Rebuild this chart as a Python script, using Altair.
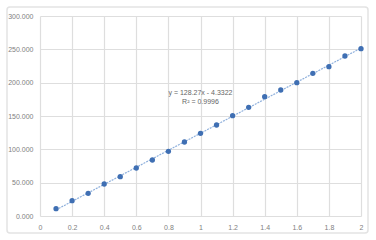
import altair as alt
import pandas as pd

xs = [0.1, 0.2, 0.3, 0.4, 0.5, 0.6, 0.7, 0.8, 0.9, 1.0, 1.1, 1.2, 1.3, 1.4, 1.5, 1.6, 1.7, 1.8, 1.9, 2.0]
ys = [11, 23, 34, 48, 59, 72, 84, 97, 111, 124, 136.5, 150.5, 163, 179, 189, 200, 214, 224, 240, 251]
eq_lines = ["y = 128.27x - 4.3322", "R² = 0.9996"]
x_ticks = [0, 0.2, 0.4, 0.6, 0.8, 1, 1.2, 1.4, 1.6, 1.8, 2]
y_ticks = [0, 50, 100, 150, 200, 250, 300]

df = pd.DataFrame({"x": xs, "y": ys})
FONT = "Liberation Sans"

xscale = alt.Scale(domain=[0, 2], nice=False, zero=True)
yscale = alt.Scale(domain=[0, 300], nice=False)

xaxis = alt.Axis(values=x_ticks, title=None,
                 labelFontSize=7, labelColor="#808080", labelFont=FONT, ticks=False,
                 domain=False, gridColor="#dedede", gridWidth=1.2, labelPadding=7,
                 labelOverlap=False, labelFlush=False,
                 labelExpr="datum.value == 0 ? '0' : format(datum.value, '~g')")
yaxis = alt.Axis(values=y_ticks, title=None, format=".3f",
                 labelFontSize=7, labelColor="#808080", labelFont=FONT, ticks=False,
                 domain=False, gridColor="#dedede", gridWidth=1.2, labelPadding=7,
                 labelOverlap=False, labelFlush=False)

X = alt.X("x:Q", scale=xscale, axis=xaxis)
Y = alt.Y("y:Q", scale=yscale, axis=yaxis)

frame = alt.Chart(pd.DataFrame({"a": [0]})).mark_rect(
    fill=None, fillOpacity=0, stroke="#e3e3e3", strokeWidth=1.5, cornerRadius=3
).encode(x=alt.value(-33), x2=alt.value(328), y=alt.value(-9), y2=alt.value(217))

base = alt.Chart(df)

trend = base.transform_regression("x", "y").mark_line(
    color="#8fb0dc", strokeWidth=1.2, strokeDash=[2, 1]
).encode(x=X, y=Y)

points = base.mark_circle(size=28, color="#3f6fb3", opacity=1).encode(x=X, y=Y)

label = alt.Chart(pd.DataFrame({"x": [1.0], "y": [185], "t": [eq_lines]})).mark_text(
    font=FONT, fontSize=7, color="#666666", align="center", baseline="middle", lineHeight=9
).encode(x=X, y=Y, text="t:N")

chart = alt.layer(trend, points, label, frame).properties(
    width=321, height=200,
    autosize=alt.AutoSizeParams(type="none"),
    padding={"left": 40, "top": 16, "right": 15, "bottom": 24},
    background="white",
).configure_view(stroke=None)

chart.save("out.html", embed_options={"renderer": "svg", "actions": False})
